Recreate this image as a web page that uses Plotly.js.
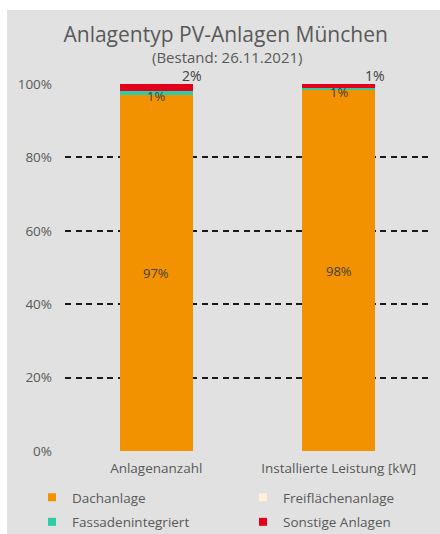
<!DOCTYPE html>
<html>
<head>
<meta charset="utf-8">
<script src="https://cdn.plot.ly/plotly-3.0.1.min.js"></script>
<style>
  html, body { margin: 0; padding: 0; background: #ffffff; }
  #chart { position: absolute; left: 7px; top: 10px; width: 433px; height: 524px; }
</style>
</head>
<body>
<div id="chart"></div>
<script>
var categories = ["Anlagenanzahl", "Installierte Leistung [kW]"];
var dachanlage = [97.1, 98.3];
var fassadenintegriert = [0.9, 0.6];
var freiflaechenanlage = [0.2, 0.1];
var sonstigeAnlagen = [1.8, 1.0];
var yTickVals = [0, 20, 40, 60, 80, 100];
var yTickText = ["0%", "20%", "40%", "60%", "80%", "100%"];

var labelColor = "#404040";
var textColor = "#595959";
var fontFamily = "Open Sans, Noto Sans, sans-serif";

function pct(v) { return Math.round(v) + "%"; }

var series = [
  {name: "Dachanlage", y: dachanlage, color: "#F39200", legend: "legend"},
  {name: "Fassadenintegriert", y: fassadenintegriert, color: "#2DCCA5", legend: "legend"},
  {name: "Freiflächenanlage", y: freiflaechenanlage, color: "#FFF0D9", legend: "legend2"},
  {name: "Sonstige Anlagen", y: sonstigeAnlagen, color: "#E2001A", legend: "legend2"}
];

var traces = [];
series.forEach(function (s) {
  traces.push({type: "bar", name: s.name, x: categories, y: s.y,
    marker: {color: s.color}, showlegend: false, hoverinfo: "none"});
});
series.forEach(function (s) {
  traces.push({type: "scatter", mode: "markers", name: s.name, x: [null], y: [null],
    marker: {color: s.color, symbol: "square", size: 8},
    legend: s.legend, legendgroup: s.name, showlegend: true, hoverinfo: "none"});
});

var annotations = [];
categories.forEach(function (c, i) {
  var d = dachanlage[i], f = fassadenintegriert[i], fr = freiflaechenanlage[i], s = sonstigeAnlagen[i];
  annotations.push({x: c, y: d / 2, text: pct(d), showarrow: false,
    font: {size: 13, color: labelColor, family: fontFamily}});
  annotations.push({x: c, y: d + f / 2, text: pct(f), showarrow: false, yshift: -3,
    font: {size: 13, color: labelColor, family: fontFamily}});
  annotations.push({x: c, y: d + f + fr + s, text: pct(s), showarrow: false,
    xshift: 36, yshift: -3, yanchor: "bottom",
    font: {size: 14, color: labelColor, family: fontFamily}});
});
annotations.push({xref: "paper", yref: "paper", x: (220 - 58) / 365, y: (441 - 46.5) / 367,
  text: "(Bestand: 26.11.2021)", showarrow: false, yanchor: "middle",
  font: {size: 15, color: textColor, family: fontFamily}});

var legendCommon = {
  orientation: "v", xref: "container", yref: "container",
  xanchor: "left", y: 1 - 472 / 524, yanchor: "top",
  traceorder: "grouped", itemwidth: 30, tracegroupgap: 4,
  font: {size: 13.5, color: textColor}, bgcolor: "rgba(0,0,0,0)"
};

var layout = {
  width: 433, height: 524,
  paper_bgcolor: "#E0E1E0", plot_bgcolor: "rgba(0,0,0,0)",
  margin: {l: 58, r: 10, t: 74, b: 83, autoexpand: false},
  barmode: "stack", bargap: 0.6,
  font: {family: fontFamily, color: textColor, size: 13},
  title: {
    text: "Anlagentyp PV-Anlagen München",
    font: {size: 21, color: textColor, family: fontFamily},
    x: 0.505, xanchor: "center", yref: "container", y: 1 - 24.5 / 524, yanchor: "middle"
  },
  xaxis: {
    type: "category",
    showgrid: false, zeroline: false, showline: false, ticks: "",
    ticklabelstandoff: 7,
    tickfont: {size: 13.5, color: textColor}
  },
  yaxis: {
    range: [0, 100], tickvals: yTickVals, ticktext: yTickText,
    showgrid: true, gridcolor: "#1a1a1a", gridwidth: 2, griddash: "6px,4.5px",
    zeroline: false, showline: false, ticks: "", ticklabelstandoff: 12,
    tickfont: {size: 13.5, color: textColor}
  },
  legend: Object.assign({}, legendCommon, {x: 25 / 433}),
  legend2: Object.assign({}, legendCommon, {x: 236 / 433}),
  annotations: annotations,
  showlegend: true
};

Plotly.newPlot("chart", traces, layout, {displayModeBar: false, staticPlot: true});
</script>
</body>
</html>
